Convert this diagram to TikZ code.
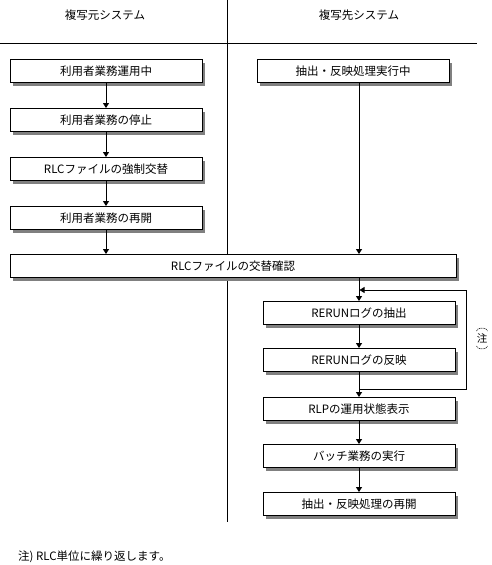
\documentclass[tikz,border=0pt]{standalone}
\usepackage{fontspec}
\setmainfont{Noto Sans CJK JP}
\usetikzlibrary{arrows.meta,shadows,calc}
\begin{document}
\begin{tikzpicture}[x=1pt,y=-1pt,
  every node/.style={font=\fontsize{11.5}{13}\selectfont, inner sep=0pt},
  box/.style={draw, line width=0.9pt, fill=white, minimum width=192pt, minimum height=23pt,
    drop shadow={shadow xshift=3pt, shadow yshift=-3pt, fill=black!50, opacity=1}},
  arr/.style={line width=0.9pt, -{Triangle[length=5pt,width=6pt]}},
  ln/.style={line width=0.9pt},
  paren/.style={line width=0.6pt, dash pattern=on 1pt off 0.8pt}]
\useasboundingbox (0,0) rectangle (492,565);
% frame lines
\coordinate (dvT) at (227,0);
\coordinate (dvB) at (227,522);
\coordinate (hlL) at (0,43);
\coordinate (hlR) at (477,43);
\draw[ln] (dvT) -- (dvB);
\draw[ln] (hlL) -- (hlR);
% headers
\node (h1) at (105,15) {複写元システム};
\node (h2) at (359,15) {複写先システム};
% left column
\node[box] (L1) at (106,71) {利用者業務運用中};
\node[box] (L2) at (106,120) {利用者業務の停止};
\node[box] (L3) at (106,169) {RLCファイルの強制交替};
\node[box] (L4) at (106,218) {利用者業務の再開};
% right column
\node[box] (R1) at (353,71) {抽出・反映処理実行中};
\node[box, minimum width=446pt] (W) at (233,266) {RLCファイルの交替確認};
\node[box] (R2) at (359,313) {RERUNログの抽出};
\node[box] (R3) at (359,360) {RERUNログの反映};
\node[box] (R4) at (359,409) {RLPの運用状態表示};
\node[box] (R5) at (359,456) {バッチ業務の実行};
\node[box] (R6) at (359,504) {抽出・反映処理の再開};
% arrows
\draw[arr] (L1) -- (L2);
\draw[arr] (L2) -- (L3);
\draw[arr] (L3) -- (L4);
\draw[arr] (L4) -- (L4 |- W.north);
\draw[arr] (R1.south -| R2) -- (W.north -| R2);
\draw[arr] (W.south -| R2) -- (R2);
\draw[arr] (R2) -- (R3);
\draw[arr] (R3) -- (R4);
\draw[arr] (R4) -- (R5);
\draw[arr] (R5) -- (R6);
% loop
\coordinate (lp1) at (359,389);
\coordinate (lp2) at (466,290);
\coordinate (lp3) at (359.5,290);
\draw[arr] (lp1) -| (lp2) -- (lp3);
% side note
\node[font=\fontsize{10.5}{12}\selectfont] (sn) at (482,338.5) {注};
\draw[paren] (476.5,331) arc[start angle=180, end angle=0, x radius=5.5pt, y radius=3pt];
\draw[paren] (476.5,346) arc[start angle=180, end angle=360, x radius=5.5pt, y radius=3pt];
% footnote
\node[anchor=west] (fn) at (18,557) {注) RLC単位に繰り返します。};
\end{tikzpicture}
\end{document}
